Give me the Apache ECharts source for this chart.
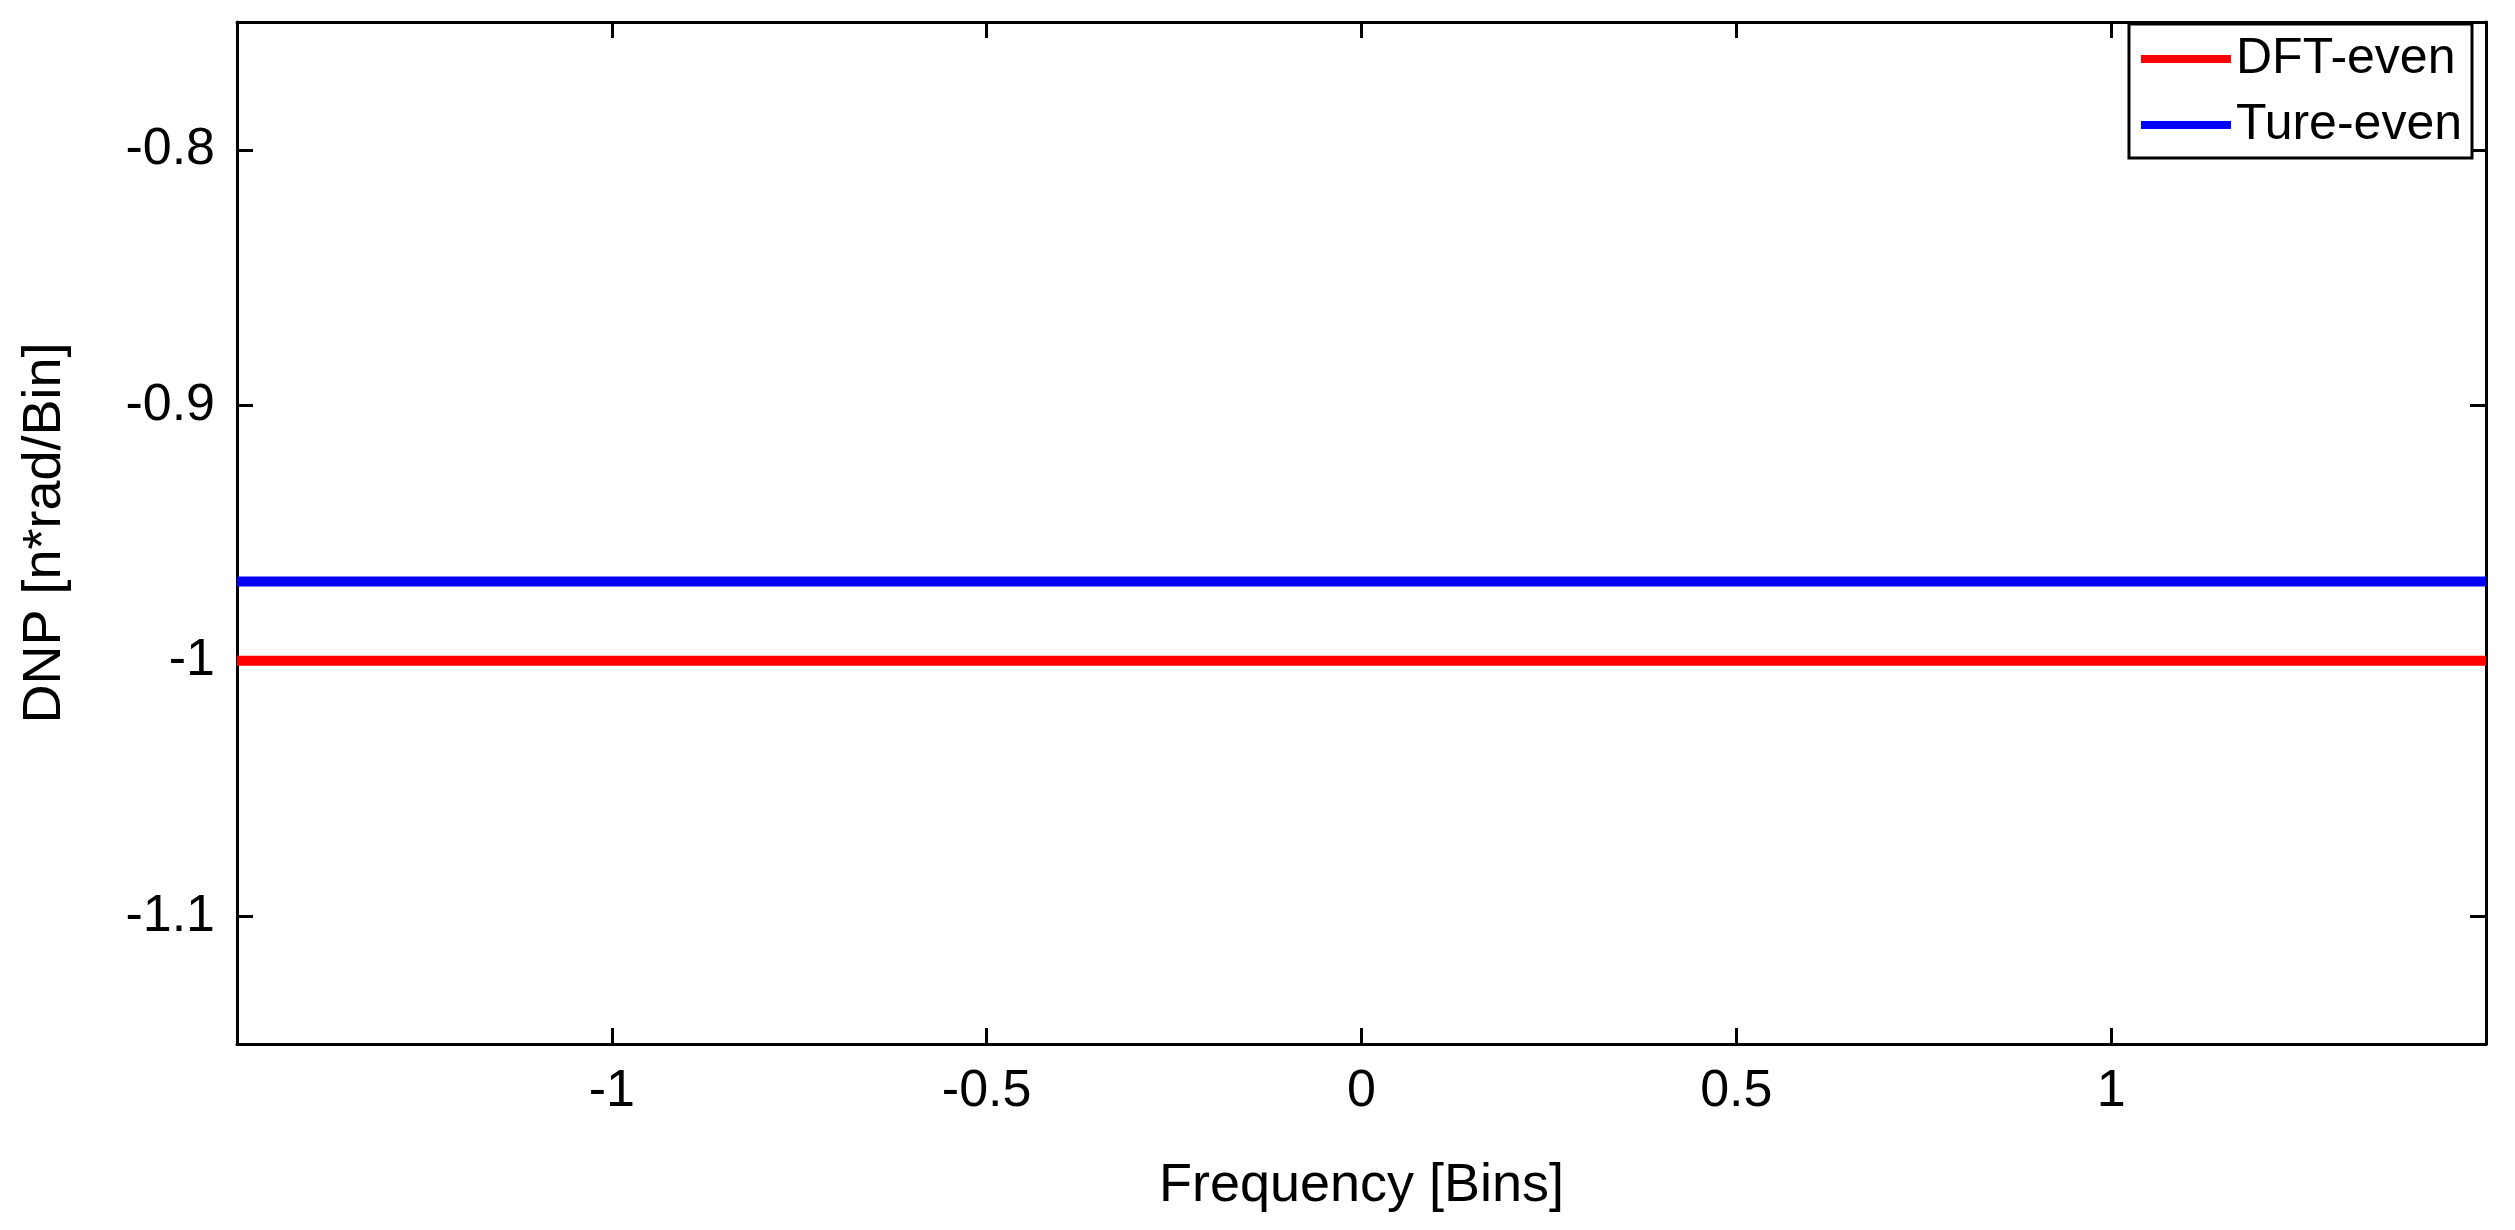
<!DOCTYPE html>
<html><head><meta charset="utf-8">
<script src="https://cdn.jsdelivr.net/npm/echarts@6/dist/echarts.min.js"></script>
<style>html,body{margin:0;background:#fff}#c{width:2515px;height:1230px}</style>
</head><body><div id="c"></div>
<script>
const freq = [-1.5, -1, -0.5, 0, 0.5, 1, 1.5];
const dftEven = [-1, -1, -1, -1, -1, -1, -1];
const tureEven = [-0.969, -0.969, -0.969, -0.969, -0.969, -0.969, -0.969];
const xTicks = [-1, -0.5, 0, 0.5, 1];
const yTicks = [-1.1, -1, -0.9, -0.8];
const F = 'Liberation Sans, Arial, sans-serif';
const chart = echarts.init(document.getElementById('c'));
const tick = {show:true, inside:true, length:16, lineStyle:{color:'#000', width:3}};
const line = {show:true, onZero:false, lineStyle:{color:'#000', width:3}};
chart.setOption({
  animation:false,
  grid:{left:237, right:29, top:22, bottom:186},
  legend:{right:43, top:24, orient:'vertical', itemWidth:90, itemHeight:8, itemGap:16,
    borderColor:'#000', borderWidth:3, padding:[10,10,8,12], backgroundColor:'#fff',
    textStyle:{fontFamily:F, fontSize:50, color:'#000'},
    data:[{name:'DFT-even', icon:'rect'},{name:'Ture-even', icon:'rect'}]},
  xAxis:[{type:'value', min:-1.5, max:1.5, name:'Frequency [Bins]', nameLocation:'middle', nameGap:115,
    nameTextStyle:{fontFamily:F, fontSize:54, color:'#000'},
    axisLine:line, splitLine:{show:false},
    axisTick:Object.assign({customValues:xTicks}, tick),
    axisLabel:{customValues:xTicks, fontFamily:F, fontSize:52, color:'#000', margin:22}},
    {type:'value', position:'top', min:-1.5, max:1.5, axisLine:line,
    splitLine:{show:false}, axisTick:Object.assign({customValues:xTicks}, tick), axisLabel:{show:false}}],
  yAxis:[{type:'value', min:-1.15, max:-0.75, name:'DNP [n*rad/Bin]', nameLocation:'middle', nameGap:165,
    nameTextStyle:{fontFamily:F, fontSize:54, color:'#000'},
    axisLine:line, splitLine:{show:false},
    axisTick:Object.assign({customValues:yTicks}, tick),
    axisLabel:{customValues:yTicks, fontFamily:F, fontSize:52, color:'#000', margin:22}},
    {type:'value', position:'right', min:-1.15, max:-0.75, axisLine:line,
    splitLine:{show:false}, axisTick:Object.assign({customValues:yTicks}, tick), axisLabel:{show:false}}],
  series:[
    {name:'DFT-even', type:'line', showSymbol:false, color:'#ff0000', lineStyle:{width:10}, data:freq.map((x,i)=>[x,dftEven[i]])},
    {name:'Ture-even', type:'line', showSymbol:false, color:'#0000ff', lineStyle:{width:10}, data:freq.map((x,i)=>[x,tureEven[i]])}
  ]
});
</script></body></html>
